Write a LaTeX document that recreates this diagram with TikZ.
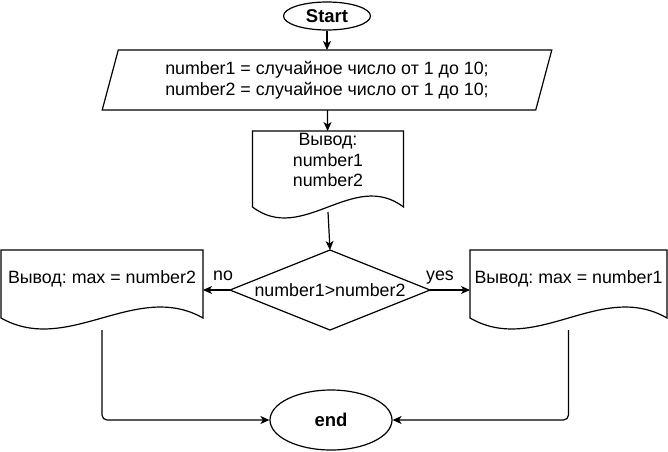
\documentclass[tikz,border=0pt]{standalone}
\usepackage{fontspec}
\setmainfont{Liberation Sans}
\frenchspacing
\usetikzlibrary{shapes.geometric,arrows.meta}
\tikzset{box/.style={draw=none, fill=none, inner sep=0mm, outer sep=0mm, align=center, font=\fontsize{17.8}{20.5}\selectfont}}
\tikzset{term/.style={ellipse, draw, inner sep=0mm, font=\fontsize{18.5}{21}\selectfont\bfseries}}
\tikzset{flow/.style={-{Stealth[length=9pt, width=8pt, inset=2.5pt]}}}

\begin{document}
\begin{tikzpicture}[x=1pt, y=-1pt, line width=1.2pt]
    \useasboundingbox (0,0) rectangle (668,451);

    \node (start) at (327,16) [term, minimum width=87pt, minimum height=28pt] {Start};
    \node (init) at (327,80) [box, draw, trapezium, trapezium left angle=71.6, trapezium right angle=108.4,
        trapezium stretches=true, minimum width=450pt, minimum height=60pt]
        {number1 = случайное число от 1 до 10;\\number2 = случайное число от 1 до 10;};
    \node (out1) at (328,160) [box, minimum width=151pt, minimum height=58pt] {Вывод:\\number1\\number2};
    \node (dec) at (330,290) [box, draw, diamond, aspect=2.5, minimum width=200pt, minimum height=80pt] {number1>number2};
    \node (outno) at (102,279) [box, minimum width=202pt, minimum height=58pt] {Вывод: max = number2};
    \node (outyes) at (568.5,279) [box, minimum width=197pt, minimum height=58pt] {Вывод: max = number1};
    \node (stop) at (331,420) [term, minimum width=122pt, minimum height=60pt] {end};

    \node (no) at (223,280) [box, anchor=base] {no};
    \node (yes) at (440,280) [box, anchor=base] {yes};

    \foreach \d/\w/\e/\b in {out1/50/18pt/23pt, outno/67/10pt/22pt, outyes/66/10pt/22pt} {
        \draw (\d.north west) -- (\d.north east) -- ([yshift=-\e]\d.south east)
            .. controls +(-\w,-38) and +(\w,38) .. ([yshift=-\e]\d.south west) -- cycle;
        \coordinate (\d-b) at ([yshift=-\b]\d.south);
    }

    \draw (start) edge[flow] (init);
    \draw (init) edge[flow] (out1);
    \draw (out1-b) edge[flow] (dec.north);
    \draw[flow] (dec.west) -- (dec.west -| outno.east);
    \draw[flow] (dec.east) -- (dec.east -| outyes.west);
    \draw[flow, rounded corners=5pt] (outno-b) |- (stop.west);
    \draw[flow, rounded corners=5pt] (outyes-b) |- (stop.east);
\end{tikzpicture}
\end{document}
